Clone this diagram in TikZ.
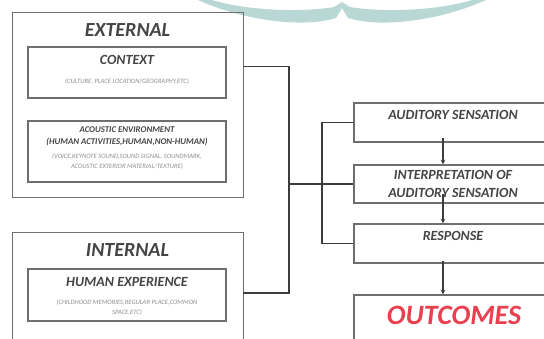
\documentclass[tikz,border=0pt]{standalone}
\usepackage{fontspec}
\setmainfont{Carlito}
\usepackage{tikz}
\usetikzlibrary{positioning}

\definecolor{boxgray}{HTML}{6E6E6E}
\definecolor{linegray}{HTML}{3C3C3C}
\definecolor{textgray}{HTML}{454545}
\definecolor{subgray}{HTML}{8E8E8E}
\definecolor{outred}{HTML}{E8404F}
\definecolor{banner}{HTML}{B8D7D5}

\begin{document}
\begin{tikzpicture}[x=1pt,y=-1pt,
  outer/.style={draw=boxgray, line width=0.9pt, minimum width=231pt, inner sep=0pt},
  inner/.style={draw=boxgray, line width=1.1pt, minimum width=198pt, inner sep=0pt},
  stage/.style={draw=boxgray, line width=1.1pt, minimum width=198pt, inner sep=0pt},
  heading/.style={text=textgray, font=\fontsize{20}{24}\selectfont\bfseries\itshape},
  boxtitle/.style={text=textgray, font=\fontsize{14}{16}\selectfont\bfseries\itshape},
  smalltitle/.style={text=textgray, align=center, font=\fontsize{8.8}{12}\selectfont\bfseries\itshape},
  note/.style={text=subgray, align=center, font=\fontsize{6.6}{10}\selectfont\itshape},
  stagetext/.style={text=textgray, align=center, font=\fontsize{14}{18}\selectfont\bfseries\itshape},
  link/.style={draw=linegray, line width=1.6pt},
  arrow/.style={draw=linegray, line width=1.1pt, ->, >=stealth}]
\useasboundingbox (0,0) rectangle (544,338);
\fill[white] (0,0) rectangle (544,338);
\fill[banner] (198,0) .. controls (240,19) and (300,29) .. (336,18) -- (342,8) -- (348,18) .. controls (384,29) and (444,19) .. (486,0) -- (472,0) .. controls (440,10) and (385,13) .. (350,7) -- (342,2) -- (334,7) .. controls (299,13) and (244,10) .. (212,0) -- cycle;

\node[outer, minimum height=185pt] (ext) at (127.5,104.5) {};
\node[heading] (exttitle) at (127.5,30) {EXTERNAL};
\node[inner, minimum height=51pt] (ctx) at (127,72.5) {};
\node[boxtitle] (ctxtitle) at (127,60) {CONTEXT};
\node[note] (ctxnote) at (127,82) {(CULTURE, PLACE LOCATION/GEOGRAPHY,ETC)};
\node[inner, minimum height=61pt] (acu) at (127,151.5) {};
\node[smalltitle] (acutitle) at (127,136) {ACOUSTIC ENVIRONMENT\\(HUMAN ACTIVITIES,HUMAN,NON-HUMAN)};
\node[note] (acunote) at (127,162) {(VOICE,KEYNOTE SOUND,SOUND SIGNAL, SOUNDMARK,\\ACOUSTIC EXTERIOR MATERIAL/TEXTURE)};

\node[outer, minimum height=122pt] (int) at (127.5,293) {};
\node[heading] (inttitle) at (127.5,250) {INTERNAL};
\node[inner, minimum height=52pt] (hum) at (127,295) {};
\node[boxtitle] (humtitle) at (127,282) {HUMAN EXPERIENCE};
\node[note] (humnote) at (127,307.5) {(CHILDHOOD MEMORIES,REGULAR PLACE,COMMON\\SPACE,ETC)};

\node[stage, minimum height=39pt] (aud) at (453,122.5) {};
\node[stagetext] (audtext) at (453,115) {AUDITORY SENSATION};
\node[stage, minimum height=38pt] (interp) at (453,184) {};
\node[stagetext] (interptext) at (453,184) {INTERPRETATION OF\\AUDITORY SENSATION};
\node[stage, minimum height=39pt] (resp) at (453,243.5) {};
\node[stagetext] (resptext) at (453,236) {RESPONSE};
\node[stage, minimum height=50pt] (out) at (453,320) {};
\node[text=outred, font=\fontsize{28}{30}\selectfont\bfseries\itshape] (outtext) at (454,315) {OUTCOMES};

\coordinate (bus) at (289,0);
\coordinate (fork) at (322,183);
\draw[link] ([yshift=-55pt]ext.north east) -| (bus |- int.east) -- (int.east);
\draw[link] (bus |- interp.west) -- (interp.west);
\draw[link] (aud.west) -| (fork) |- (resp.west);

\draw[arrow] ([xshift=-10pt,yshift=5pt]aud.south) -- ([xshift=-10pt]interp.north);
\draw[arrow] ([xshift=-10pt,yshift=10pt]interp.south) -- ([xshift=-10pt]resp.north);
\draw[arrow] ([xshift=-10pt,yshift=3pt]resp.south) -- ([xshift=-10pt]out.north);
\end{tikzpicture}
\end{document}
